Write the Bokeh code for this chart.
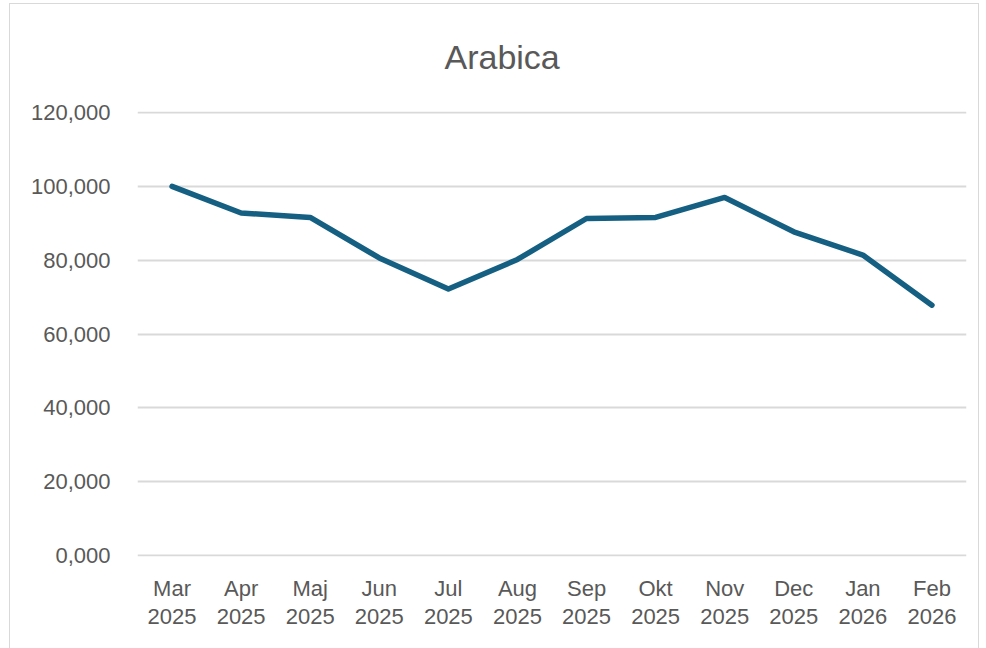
from bokeh.plotting import figure
from bokeh.models import FixedTicker, CustomJSTickFormatter, Title, ColumnDataSource
from bokeh.embed import file_html
from bokeh.resources import INLINE

months = ["Mar", "Apr", "Maj", "Jun", "Jul", "Aug", "Sep", "Okt", "Nov", "Dec", "Jan", "Feb"]
years = ["2025", "2025", "2025", "2025", "2025", "2025", "2025", "2025", "2025", "2025", "2026", "2026"]
values = [100.0, 92.8, 91.6, 80.6, 72.2, 80.2, 91.3, 91.6, 97.0, 87.7, 81.4, 67.8]
y_ticks = [0, 20, 40, 60, 80, 100, 120]
title_text = "Arabica"

idx = list(range(len(months)))
overrides = {i: f"{m}\n{y}" for i, m, y in zip(idx, months, years)}

TEXT = "#595959"
GRID = "#d9d9d9"
LINE = "#156082"

p = figure(x_range=(-0.5, len(months) - 0.5), y_range=(-0.3, 120.3), width=970, height=645,
           output_backend="svg", toolbar_location=None,
           min_border_left=127, min_border_right=14, min_border_top=107, min_border_bottom=93)
p.margin = (3, 0, 0, 9)
p.styles = {"border-top": "1px solid #d9d9d9", "border-left": "1px solid #d9d9d9",
            "border-right": "1px solid #d9d9d9"}

src = ColumnDataSource(dict(x=idx, y=values))
p.line("x", "y", source=src, line_color=LINE, line_width=5.5, line_join="round", line_cap="round")

p.outline_line_color = None
p.xgrid.grid_line_color = None
p.ygrid.grid_line_color = GRID
p.ygrid.grid_line_width = 2

p.yaxis.ticker = FixedTicker(ticks=y_ticks)
p.yaxis.formatter = CustomJSTickFormatter(code="return tick.toFixed(3).replace('.', ',');")
p.xaxis.ticker = FixedTicker(ticks=idx)
p.xaxis.major_label_overrides = overrides
for ax in (p.xaxis, p.yaxis):
    ax.axis_line_color = None
    ax.major_tick_line_color = None
    ax.minor_tick_line_color = None
    ax.major_label_text_color = TEXT
    ax.major_label_text_font = "Liberation Sans"
    ax.major_label_text_font_size = "22px"
p.yaxis.major_label_standoff = 21
p.xaxis.major_label_standoff = 13
p.xaxis.major_label_text_line_height = 1.15

t = Title(text=title_text, align="left", offset=307, text_font="Liberation Sans",
          text_font_size="34px", text_font_style="normal", text_color=TEXT,
          vertical_align="top", standoff=67)
p.add_layout(t, "above")

open("out.html", "w").write(file_html(p, INLINE))
